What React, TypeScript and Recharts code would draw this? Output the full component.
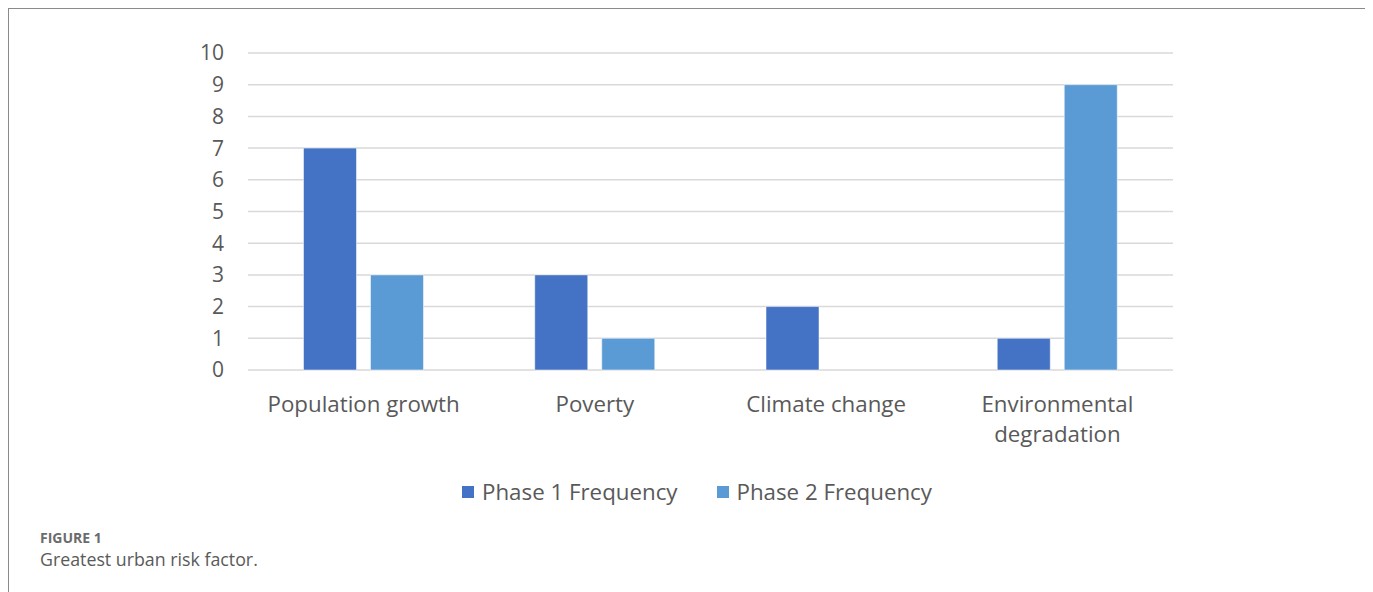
import { BarChart, Bar, XAxis, YAxis, CartesianGrid, Legend } from 'recharts'

const categories = ['Population growth', 'Poverty', 'Climate change', 'Environmental degradation']
const phase1 = [7, 3, 2, 1]
const phase2 = [3, 1, 0, 9]
const yTicks = [0, 1, 2, 3, 4, 5, 6, 7, 8, 9, 10]

const data = categories.map((name, i) => ({ name, phase1: phase1[i], phase2: phase2[i] }))

const FONT = '"Open Sans", Lato, sans-serif'
const TEXT = '#595959'
const LABEL_SIZE = 22.3

// long category names go one word per line, like the Excel axis does
const CategoryTick = (props: any) => {
  const { x, y, payload } = props
  const label: string = payload.value
  const lines = label.length > 20 ? label.split(' ') : [label]
  return (
    <text x={x} y={y} textAnchor="middle" fill={TEXT} style={{ fontSize: LABEL_SIZE, fontFamily: FONT }}>
      {lines.map((line, i) => (
        <tspan key={i} x={x} dy={i === 0 ? '0.85em' : 30}>
          {line}
        </tspan>
      ))}
    </text>
  )
}

const renderLegend = (props: any) => {
  const { payload } = props
  return (
    <div style={{ display: 'flex', justifyContent: 'center', gap: 39, fontFamily: FONT, fontSize: LABEL_SIZE, color: TEXT }}>
      {payload.map((entry: any) => (
        <div key={entry.value} style={{ display: 'flex', alignItems: 'center' }}>
          <span style={{ width: 12, height: 12, background: entry.color, marginRight: 8, display: 'inline-block' }} />
          <span>{entry.value}</span>
        </div>
      ))}
    </div>
  )
}

export default function App() {
  return (
    <div
      style={{
        position: 'relative',
        margin: '-1px 0 0 -1px',
        width: 1356,
        height: 600,
        border: '2px solid #8a8a8a',
        background: '#fff',
        fontFamily: FONT,
      }}
    >
      <div style={{ position: 'absolute', left: 0, top: 0 }}>
        <BarChart
          width={1200}
          height={520}
          data={data}
          margin={{ top: 44, right: 36, left: 179, bottom: 79 }}
          barGap={14}
          barCategoryGap="24%"
        >
          <CartesianGrid vertical={false} stroke="#d9d9d9" strokeWidth={1.5} />
          <XAxis
            dataKey="name"
            axisLine={false}
            tickLine={false}
            tickSize={0}
            tickMargin={23}
            height={80}
            interval={0}
            tick={<CategoryTick />}
          />
          <YAxis
            domain={[0, 10]}
            ticks={yTicks}
            interval={0}
            axisLine={false}
            tickLine={false}
            tickSize={0}
            tickMargin={24}
            width={60}
            tick={{ fontSize: 21, fill: TEXT, fontFamily: FONT }}
          />
          <Legend
            verticalAlign="middle"
            layout="horizontal"
            content={renderLegend}
            wrapperStyle={{ top: 467, left: 188, width: 1000 }}
          />
          <Bar dataKey="phase1" name="Phase 1 Frequency" fill="#4472C4" stroke="#ffffff" strokeOpacity={0.5} isAnimationActive={false} />
          <Bar dataKey="phase2" name="Phase 2 Frequency" fill="#5B9BD5" stroke="#ffffff" strokeOpacity={0.5} isAnimationActive={false} />
        </BarChart>
      </div>
      <div style={{ position: 'absolute', left: 31, top: 519, fontSize: 14, fontWeight: 700, color: '#6b6b6b' }}>
        FIGURE 1
      </div>
      <div style={{ position: 'absolute', left: 31, top: 538, fontSize: 17.8, color: '#5a5a5a' }}>
        Greatest urban risk factor.
      </div>
    </div>
  )
}
